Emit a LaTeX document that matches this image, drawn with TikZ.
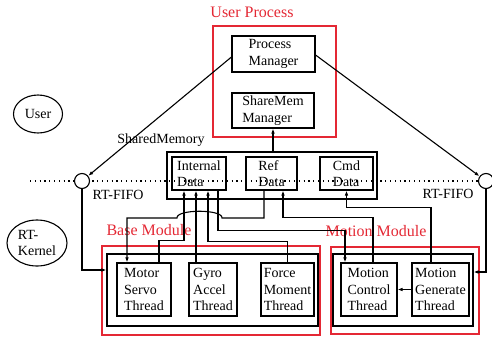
\documentclass[tikz,border=0pt]{standalone}
\usepackage{fontspec}
\setmainfont{Liberation Serif}
\usetikzlibrary{arrows.meta,shapes.geometric}
\definecolor{modred}{RGB}{228,40,52}

\begin{document}
\begin{tikzpicture}[x=1pt,y=-1pt,
  box/.style={draw,line width=1.1pt,align=left,inner sep=0pt,font=\fontsize{14}{16.5}\selectfont},
  frame/.style={draw,line width=1.1pt,inner sep=0pt},
  redframe/.style={draw=modred,line width=1.8pt},
  redtxt/.style={text=modred,inner sep=0pt,font=\fontsize{16}{18}\selectfont},
  txt/.style={inner sep=0pt,font=\fontsize{14}{16.5}\selectfont},
  oval/.style={draw,ellipse,line width=1.1pt,inner sep=0pt,align=left,font=\fontsize{14}{16.5}\selectfont},
  fifo/.style={draw,circle,line width=1.1pt,fill=white,minimum size=15pt,inner sep=0pt},
  wire/.style={line width=1.1pt},
  arr/.style={line width=1.1pt,-{Latex[length=5pt,width=3.6pt]}}]
\useasboundingbox (0,0) rectangle (492,338);

\draw[line width=1.1pt,dash pattern=on 1.2pt off 3.6pt] (30,181) -- (492,181);

\draw[redframe] (213,26) rectangle (336,137);
\draw[redframe] (102,246) rectangle (320,335);
\draw[redframe] (331,247) rectangle (479,334);
\node[redtxt] (up) at (252,12.5) {User Process};
\node[redtxt] (bm) at (149,230.5) {Base Module};
\node[redtxt] (mm) at (376,231) {Motion Module};

\node[oval,minimum width=49pt,minimum height=38pt] (user) at (38,114) {User};
\node[oval,minimum width=60pt,minimum height=46pt] (kern) at (37,243) {RT-\\Kernel};

\node[box,minimum width=83pt,minimum height=36pt] (pm) at (273.5,54) {Process\\Manager};
\node[box,minimum width=82pt,minimum height=35pt] (smm) at (273,110.5) {ShareMem\\Manager};

\node[frame,minimum width=210pt,minimum height=47pt] (shm) at (272,175.5) {};
\node[box,minimum width=54pt,minimum height=33pt] (id) at (199,173.5) {Internal\\Data};
\node[box,minimum width=51pt,minimum height=33pt] (rd) at (271.5,173.5) {Ref\\Data};
\node[box,minimum width=53pt,minimum height=33pt] (cd) at (346.5,173.5) {Cmd\\Data};
\node[txt,anchor=base] (shmtxt) at (161,143) {SharedMemory};

\node[frame,minimum width=211pt,minimum height=72pt] (bi) at (212.5,290) {};
\node[frame,minimum width=140pt,minimum height=72pt] (mi) at (403,290) {};
\node[box,minimum width=54pt,minimum height=53pt] (ms) at (144,289.5) {Motor\\Servo\\Thread};
\node[box,minimum width=48pt,minimum height=53pt] (ga) at (213,289.5) {Gyro\\Accel\\Thread};
\node[box,minimum width=53pt,minimum height=53pt] (fm) at (287.5,289.5) {Force\\Moment\\Thread};
\node[box,minimum width=56pt,minimum height=53pt] (mc) at (369,289.5) {Motion\\Control\\Thread};
\node[box,minimum width=57pt,minimum height=53pt] (mg) at (440.5,289.5) {Motion\\Generate\\Thread};

\node[fifo] (lc) at (82,181) {};
\node[fifo] (rc) at (486,181) {};
\node[txt,anchor=base] (lfifo) at (118,199) {RT-FIFO};
\node[txt,anchor=base] (rfifo) at (448,198) {RT-FIFO};

\draw[arr] (shm.north -| smm.south) -- (smm.south);
\draw[arr] ([yshift=-3pt]pm.west) -- (lc);
\draw[arr] ([yshift=-1pt]pm.east) -- (rc);
\draw[arr] (lc.south) |- ([yshift=20pt]bi.west);
\draw[arr] (rc.south) |- ([yshift=18pt]mi.east);

\draw[arr] ([xshift=-7.5pt]rd.south) |- (222,218) .. controls (223,209) and (176,209) .. (177,218) -| ([xshift=-17pt]ms.north);
\draw[arr] ([xshift=15pt]ms.north) -- ++(0,-22) -| ([xshift=-15pt]id.south);
\draw[arr] ([xshift=-17pt]ga.north) -- ([xshift=-17pt]ga.north |- id.south);
\draw[arr] (fm.north) -- ++(0,-21) -| ([xshift=9pt]id.south);
\draw[arr] ([xshift=19pt]id.south) -- ++(0,40) -| ([xshift=-24pt]mc.north);
\draw[arr] ([xshift=4pt]mc.north) -- ++(0,-45) -| ([xshift=11.5pt]rd.south);
\draw[arr] ([xshift=-9.5pt]mg.north) -- ++(0,-55) -| (cd.south);
\draw[arr] (mg.west) -- (mc.east);
\end{tikzpicture}
\end{document}
